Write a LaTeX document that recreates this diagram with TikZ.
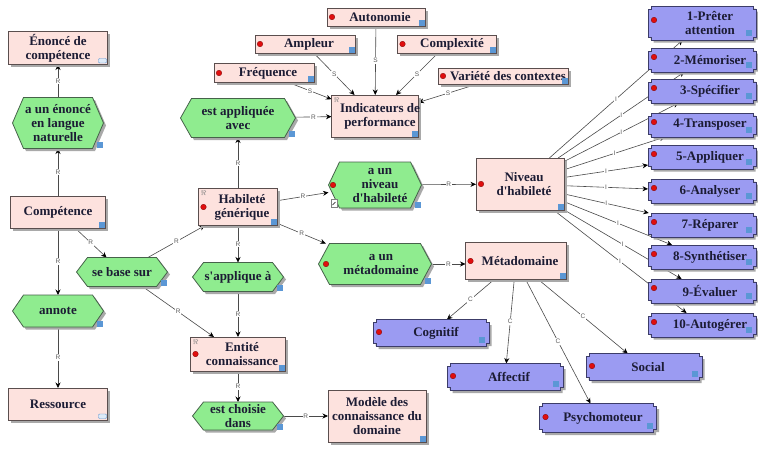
\documentclass[tikz,border=0pt]{standalone}
\usepackage{fontspec}
\setmainfont{Liberation Serif}[Ligatures=TeXOff]
\setsansfont{Liberation Sans}
\usetikzlibrary{arrows.meta}

\pgfdeclarelayer{edges}
\pgfdeclarelayer{boxes}
\pgfsetlayers{edges,boxes,main}

\definecolor{concfill}{HTML}{FDE2DE}
\definecolor{concdraw}{HTML}{5A4E4E}
\definecolor{procfill}{HTML}{8FEC8F}
\definecolor{procdraw}{HTML}{46624A}
\definecolor{factfill}{HTML}{9B9BF2}
\definecolor{factdraw}{HTML}{3C3C68}
\definecolor{shadec}{HTML}{A9A9A9}
\definecolor{markc}{HTML}{5B97D5}
\definecolor{dotred}{HTML}{E00E0E}
\definecolor{dotedge}{HTML}{7A0000}
\definecolor{ink}{HTML}{1C1C34}
\definecolor{linkc}{HTML}{4A4A4A}
\definecolor{tagc}{HTML}{5A5A5A}

\tikzset{
  holder/.style={inner sep=0pt, outer sep=0pt},
  boxtext/.style={font=\bfseries\fontsize{13}{14}\selectfont, text=ink, align=center, inner sep=0pt},
  concstyle/.style={fill=concfill, draw=concdraw, line width=0.8pt},
  procstyle/.style={fill=procfill, draw=procdraw, line width=0.8pt},
  factstyle/.style={fill=factfill, draw=factdraw, line width=0.8pt},
  dropshade/.style={fill=shadec},
  link/.style={draw=linkc, line width=0.6pt, -{Stealth[length=5.5pt,width=5pt,color=black]}},
  tag/.style={font=\sffamily\fontsize{6.5}{7}\selectfont, text=tagc, fill=white, inner sep=0.8pt},
}

% outlines of the three kinds of boxes, optionally shifted (for the shadow)
\newcommand\rectshape[3]{\path[#3] ([shift={#2}]#1.north west) rectangle ([shift={#2}]#1.south east);}
\newcommand\hexshape[3]{\path[#3] ([shift={#2}]#1.west)
  -- ([shift={#2},xshift=11pt]#1.north west) -- ([shift={#2},xshift=-11pt]#1.north east)
  -- ([shift={#2}]#1.east)
  -- ([shift={#2},xshift=-11pt]#1.south east) -- ([shift={#2},xshift=11pt]#1.south west) -- cycle;}
\newcommand\notchshape[3]{\path[#3] ([shift={#2},xshift=3pt]#1.north west)
  -- ([shift={#2},xshift=-3pt]#1.north east) -- ++(0pt,-3pt) -- ++(3pt,0pt)
  -- ([shift={#2},yshift=3pt]#1.south east) -- ++(-3pt,0pt) -- ++(0pt,-3pt)
  -- ([shift={#2},xshift=3pt]#1.south west) -- ++(0pt,3pt) -- ++(-3pt,0pt)
  -- ([shift={#2},yshift=-3pt]#1.north west) -- ++(3pt,0pt) -- cycle;}

% [text shift]{name}{x}{y}{width}{height}{text}
\newcommand\concept[7][0]{%
  \node[holder, minimum width=#5pt, minimum height=#6pt] (#2) at (#3,#4) {};
  \begin{pgfonlayer}{boxes}
    \rectshape{#2}{(2.5pt,-2.5pt)}{dropshade}
    \rectshape{#2}{(0pt,0pt)}{concstyle}
  \end{pgfonlayer}
  \node[boxtext] (#2-t) at ([xshift=#1pt]#2.center) {#7};}
\newcommand\process[7][0]{%
  \node[holder, minimum width=#5pt, minimum height=#6pt] (#2) at (#3,#4) {};
  \begin{pgfonlayer}{boxes}
    \hexshape{#2}{(2.5pt,-2.5pt)}{dropshade}
    \hexshape{#2}{(0pt,0pt)}{procstyle}
  \end{pgfonlayer}
  \node[boxtext] (#2-t) at ([xshift=#1pt]#2.center) {#7};}
\newcommand\fact[7][0]{%
  \node[holder, minimum width=#5pt, minimum height=#6pt] (#2) at (#3,#4) {};
  \begin{pgfonlayer}{boxes}
    \notchshape{#2}{(2.5pt,-2.5pt)}{dropshade}
    \notchshape{#2}{(0pt,0pt)}{factstyle}
  \end{pgfonlayer}
  \node[boxtext] (#2-t) at ([xshift=#1pt]#2.center) {#7};}

% [yshift]{xoffset}{node}: red dot
\newcommand\rdot[3][0]{\fill[dotred, draw=dotedge, line width=0.3pt] ([shift={(#2pt,#1pt)}]#3.west) circle (2.8pt);}
% [inset]{node}: small blue square
\newcommand\bmark[2][0]{\fill[markc] ([shift={(-6.5pt-#1pt,0.5pt+#1pt)}]#2.south east) rectangle ++(6pt,6pt);}
% pale link marker
\newcommand\lmark[1]{\draw[markc, fill=markc!20, line width=0.4pt, rounded corners=1pt] ([shift={(-9pt,1.5pt)}]#1.south east) rectangle ++(8pt,4.5pt);}
% small icon in the upper left corner
\newcommand\ricon[1]{\node[inner sep=0pt, text=gray, font=\fontsize{7}{7}\selectfont] (#1-icon) at ([shift={(5pt,-5pt)}]#1.north west) {$\Re$};}

\begin{document}
\begin{tikzpicture}[x=1pt, y=-1pt]
\useasboundingbox (0,0) rectangle (758,448);
\begin{pgfonlayer}{edges}
  \fill[white] (0,0) rectangle (758,448);
\end{pgfonlayer}

% ---- left column
\concept{enonce}{58}{48}{99}{33}{Énoncé de\\compétence}
\process{aun}{58}{123}{91}{51}{a un énoncé\\en langue\\naturelle}
\concept{comp}{58}{212}{95}{32}{Compétence}
\process{annote}{58}{311}{91}{32}{annote}
\concept{ress}{58}{404}{99}{32}{Ressource}
\process{base}{122}{272}{91}{29}{se base sur}

% ---- middle column
\process{app}{238}{118}{115}{39}{est appliquée\\avec}
\concept[4]{hab}{238}{207}{79}{37}{Habileté\\générique}
\process{sapp}{238}{277}{91}{29}{s'applique à}
\concept[4]{ent}{238}{354}{95}{34}{Entité\\connaissance}
\process{chois}{238}{416}{91}{28}{est choisie\\dans}
\concept{mod}{377}{416}{98}{52}{Modèle des\\connaissance du\\domaine}

% ---- performance indicators
\concept[5]{ind}{375}{116}{87}{42}{Indicateurs de\\performance}
\concept[4]{auto}{376}{17}{98}{18}{Autonomie}
\concept[4]{ampl}{305}{44}{100}{18}{Ampleur}
\concept[5]{compl}{447}{44}{99}{18}{Complexité}
\concept[4]{freq}{264}{73}{100}{19}{Fréquence}
\concept[5]{var}{503}{76}{130}{16}{Variété des contextes}

% ---- level and metadomain
\process[5]{aniv}{375}{185}{93}{46}{a un\\niveau\\d'habileté}
\process[6]{ameta}{375}{264}{113}{41}{a un\\métadomaine}
\concept[4]{niv}{520}{184}{88}{52}{Niveau\\d'habileté}
\concept[4]{meta}{516}{261}{101}{37}{Métadomaine}

% ---- levels 1 to 10
\fact[8]{b1}{702}{23}{108}{34}{1-Prêter\\attention}
\fact[8]{b2}{702}{60}{108}{24}{2-Mémoriser}
\fact[8]{b3}{702}{91}{108}{24}{3-Spécifier}
\fact[8]{b4}{702}{125}{108}{24}{4-Transposer}
\fact[8]{b5}{702}{157}{108}{24}{5-Appliquer}
\fact[8]{b6}{702}{191}{108}{24}{6-Analyser}
\fact[8]{b7}{702}{225}{108}{24}{7-Réparer}
\fact[8]{b8}{702}{257}{108}{24}{8-Synthétiser}
\fact[8]{b9}{702}{291}{108}{24}{9-Évaluer}
\fact[8]{b10}{702}{325}{108}{24}{10-Autogérer}

% ---- metadomains
\fact[5]{cog}{431}{333}{116}{27}{Cognitif}
\fact[4]{aff}{505}{377}{116}{27}{Affectif}
\fact[5]{psy}{598}{418}{117}{29}{Psychomoteur}
\fact[4]{soc}{644}{367}{116}{27}{Social}

% ---- markers
\foreach \n in {comp,aun,annote,base,app,hab,sapp,ent,chois,mod,ind,auto,ampl,compl,freq,var,aniv,ameta,niv,meta}
  {\bmark{\n}}
\foreach \n in {b1,b2,b3,b4,b5,b6,b7,b8,b9,b10,cog,aff,psy,soc}
  {\bmark[3.5]{\n}}
\lmark{enonce}
\lmark{ress}
\foreach \n in {hab,ent,auto,ampl,compl,freq,var,niv,meta}
  {\rdot{5}{\n}}
\rdot{4.5}{aniv}
\rdot{7.5}{ameta}
\foreach \n in {b1,b2,b3,b4,b5,b6,b7,b8,b9,b10}
  {\rdot[3]{6}{\n}}
\foreach \n in {cog,aff,psy,soc}
  {\rdot[1]{6}{\n}}
\ricon{hab}
\ricon{ent}
\ricon{ind}
\draw[gray, fill=white, line width=0.4pt] ([shift={(2.5pt,1pt)}]aniv.south west) rectangle ++(6pt,8pt);
\draw[black, line width=0.5pt] ([shift={(4pt,3pt)}]aniv.south west) -- ++(3pt,3pt);

% ---- connectors
\begin{pgfonlayer}{edges}
  \draw[link] (comp) -- node[tag]{R} (aun);
  \draw[link] (aun) -- node[tag]{R} (enonce);
  \draw[link] (comp) -- node[tag]{R} (annote);
  \draw[link] (annote) -- node[tag]{R} (ress);
  \draw[link] (comp) -- node[tag]{R} (base);
  \draw[link] (base) -- node[tag]{R} (hab);
  \draw[link] (base) -- node[tag]{R} (ent);
  \draw[link] (hab) -- node[tag]{R} (app);
  \draw[link] (app) -- node[tag]{R} (ind);
  \draw[link] (hab) -- node[tag]{R} (aniv);
  \draw[link] (aniv) -- node[tag]{R} (niv);
  \draw[link] (hab) -- node[tag]{R} (ameta);
  \draw[link] (ameta.east) -- node[tag]{R} (ameta.east -| meta.west);
  \draw[link] (hab) -- node[tag]{R} (sapp);
  \draw[link] (sapp) -- node[tag]{R} (ent);
  \draw[link] (ent) -- node[tag]{R} (chois);
  \draw[link] (chois) -- node[tag]{R} (chois -| mod.west);
  \foreach \n in {auto,ampl,compl,freq,var}
    {\draw[link] (\n) -- node[tag]{S} (ind);}
  \foreach \n in {cog,aff,psy,soc}
    {\draw[link] (meta) -- node[tag]{C} (\n);}
  \foreach \n in {b1,b2,b3,b4,b5,b6,b7,b8,b9,b10}
    {\draw[link] (niv) -- node[tag]{I} (\n);}
\end{pgfonlayer}
\end{tikzpicture}
\end{document}
